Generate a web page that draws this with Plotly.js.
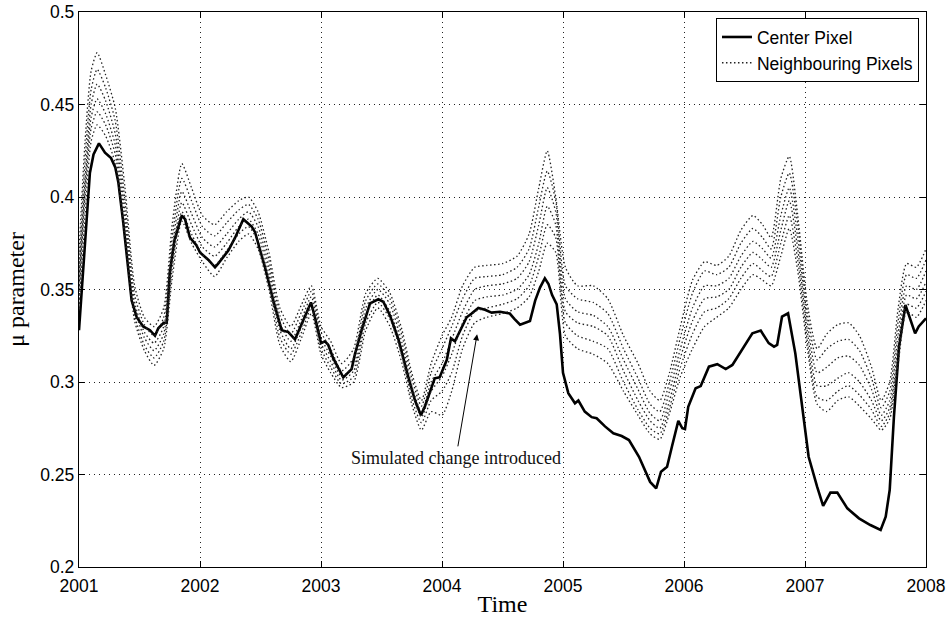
<!DOCTYPE html>
<html>
<head>
<meta charset="utf-8">
<script src="https://cdn.plot.ly/plotly-3.0.1.min.js"></script>
<style>html,body{margin:0;padding:0;background:#fff;}#chart{width:949px;height:619px;}</style>
</head>
<body>
<div id="chart"></div>
<script>
// Center pixel series (time in years, mu parameter)
const centerTime = [2001.0,2001.05,2001.09,2001.12,2001.165,2001.215,2001.265,2001.30,2001.325,2001.366,2001.41,2001.435,2001.477,2001.53,2001.587,2001.628,2001.655,2001.70,2001.725,2001.75,2001.79,2001.85,2001.876,2001.917,2001.97,2002.0,2002.07,2002.124,2002.15,2002.234,2002.29,2002.358,2002.427,2002.455,2002.537,2002.606,2002.675,2002.73,2002.785,2002.854,2002.917,2002.95,2003.0,2003.033,2003.06,2003.10,2003.184,2003.253,2003.28,2003.336,2003.405,2003.474,2003.515,2003.57,2003.64,2003.72,2003.777,2003.826,2003.86,2003.94,2003.98,2004.04,2004.074,2004.107,2004.163,2004.204,2004.245,2004.30,2004.355,2004.41,2004.48,2004.56,2004.60,2004.645,2004.727,2004.77,2004.81,2004.85,2004.88,2004.91,2004.948,2004.975,2005.0,2005.044,2005.099,2005.127,2005.18,2005.237,2005.278,2005.347,2005.416,2005.485,2005.545,2005.595,2005.628,2005.72,2005.77,2005.81,2005.86,2005.90,2005.953,2005.986,2006.008,2006.035,2006.096,2006.138,2006.206,2006.275,2006.345,2006.40,2006.48,2006.565,2006.634,2006.70,2006.744,2006.77,2006.81,2006.86,2006.92,2006.977,2007.03,2007.10,2007.15,2007.21,2007.267,2007.35,2007.446,2007.54,2007.625,2007.667,2007.70,2007.735,2007.777,2007.83,2007.91,2007.94,2008.0];
const centerVal = [0.328,0.377,0.413,0.423,0.429,0.424,0.421,0.416,0.408,0.386,0.359,0.344,0.335,0.330,0.328,0.325,0.329,0.332,0.332,0.359,0.377,0.390,0.388,0.378,0.374,0.370,0.366,0.362,0.364,0.371,0.378,0.388,0.384,0.381,0.362,0.344,0.328,0.327,0.323,0.333,0.343,0.335,0.321,0.322,0.320,0.313,0.3025,0.307,0.315,0.328,0.3425,0.3447,0.3434,0.336,0.323,0.303,0.290,0.282,0.287,0.302,0.3025,0.312,0.3236,0.322,0.330,0.335,0.337,0.340,0.339,0.3375,0.338,0.337,0.334,0.331,0.333,0.344,0.351,0.356,0.353,0.347,0.342,0.326,0.305,0.294,0.2885,0.290,0.284,0.281,0.2804,0.276,0.2723,0.2708,0.2686,0.2632,0.2596,0.246,0.2425,0.2515,0.2542,0.265,0.279,0.275,0.2746,0.2866,0.2966,0.2978,0.3083,0.3096,0.307,0.3092,0.3173,0.3263,0.3278,0.321,0.3191,0.320,0.3353,0.3371,0.3155,0.2866,0.2596,0.2434,0.233,0.2402,0.2402,0.2317,0.2263,0.2227,0.220,0.2272,0.2416,0.2812,0.319,0.3416,0.3263,0.330,0.3344];

// Neighbouring pixels (shared time axis)
const nbTime = [2001.00,2001.05,2001.10,2001.15,2001.22,2001.30,2001.38,2001.46,2001.54,2001.62,2001.70,2001.77,2001.85,2001.93,2002.02,2002.12,2002.22,2002.32,2002.40,2002.48,2002.57,2002.66,2002.75,2002.84,2002.92,2003.00,2003.08,2003.17,2003.27,2003.37,2003.47,2003.57,2003.67,2003.75,2003.83,2003.91,2004.00,2004.08,2004.17,2004.27,2004.37,2004.50,2004.62,2004.72,2004.80,2004.87,2004.94,2005.02,2005.12,2005.25,2005.37,2005.50,2005.62,2005.72,2005.80,2005.88,2005.97,2006.07,2006.17,2006.27,2006.37,2006.47,2006.57,2006.65,2006.72,2006.80,2006.87,2006.94,2007.02,2007.10,2007.18,2007.27,2007.36,2007.45,2007.55,2007.63,2007.70,2007.77,2007.84,2007.92,2008.00];
const nb1 = [0.37,0.43,0.468,0.478,0.466,0.448,0.405,0.352,0.335,0.33,0.34,0.385,0.418,0.405,0.39,0.385,0.392,0.398,0.4,0.392,0.37,0.34,0.33,0.342,0.352,0.33,0.322,0.31,0.318,0.348,0.356,0.348,0.328,0.305,0.29,0.31,0.325,0.335,0.352,0.362,0.363,0.364,0.368,0.38,0.405,0.425,0.4,0.362,0.352,0.352,0.345,0.325,0.31,0.295,0.29,0.305,0.33,0.355,0.365,0.363,0.368,0.382,0.39,0.385,0.378,0.41,0.422,0.39,0.342,0.318,0.326,0.331,0.332,0.325,0.308,0.29,0.3,0.34,0.364,0.362,0.372];
const nb2 = [0.36,0.42,0.458,0.469,0.459,0.441,0.398,0.347,0.331,0.325,0.335,0.378,0.41,0.398,0.384,0.379,0.386,0.393,0.396,0.388,0.366,0.336,0.326,0.338,0.349,0.327,0.318,0.306,0.313,0.344,0.353,0.345,0.325,0.302,0.287,0.305,0.318,0.33,0.345,0.356,0.357,0.358,0.362,0.372,0.395,0.414,0.398,0.352,0.345,0.343,0.337,0.318,0.302,0.288,0.284,0.3,0.324,0.348,0.36,0.358,0.362,0.375,0.383,0.378,0.372,0.4,0.413,0.385,0.337,0.312,0.318,0.322,0.323,0.317,0.302,0.286,0.295,0.333,0.358,0.356,0.366];
const nb3 = [0.355,0.41,0.45,0.461,0.452,0.434,0.392,0.343,0.327,0.321,0.33,0.372,0.403,0.391,0.378,0.373,0.38,0.388,0.392,0.384,0.362,0.332,0.322,0.334,0.346,0.324,0.314,0.303,0.309,0.34,0.35,0.342,0.321,0.298,0.284,0.3,0.31,0.323,0.338,0.35,0.352,0.353,0.356,0.365,0.385,0.405,0.392,0.345,0.338,0.336,0.33,0.312,0.296,0.283,0.279,0.295,0.318,0.34,0.352,0.352,0.356,0.368,0.376,0.372,0.367,0.39,0.405,0.378,0.332,0.305,0.308,0.313,0.314,0.309,0.296,0.282,0.29,0.326,0.352,0.35,0.36];
const nb4 = [0.35,0.405,0.443,0.453,0.445,0.428,0.387,0.34,0.324,0.317,0.326,0.366,0.397,0.385,0.373,0.368,0.375,0.384,0.388,0.38,0.358,0.328,0.318,0.33,0.343,0.321,0.311,0.301,0.306,0.336,0.347,0.338,0.318,0.295,0.281,0.295,0.303,0.315,0.332,0.344,0.346,0.347,0.35,0.358,0.375,0.395,0.385,0.338,0.332,0.33,0.325,0.306,0.29,0.279,0.275,0.29,0.313,0.333,0.345,0.346,0.35,0.362,0.37,0.366,0.362,0.382,0.398,0.372,0.327,0.298,0.298,0.302,0.305,0.3,0.29,0.279,0.286,0.32,0.347,0.345,0.354];
const nb5 = [0.345,0.40,0.437,0.446,0.439,0.423,0.382,0.336,0.32,0.313,0.322,0.361,0.392,0.38,0.369,0.363,0.371,0.38,0.384,0.376,0.354,0.324,0.315,0.327,0.34,0.318,0.308,0.299,0.303,0.332,0.343,0.334,0.314,0.291,0.278,0.29,0.295,0.305,0.325,0.338,0.34,0.342,0.345,0.352,0.368,0.385,0.378,0.332,0.325,0.322,0.318,0.3,0.285,0.275,0.272,0.286,0.308,0.326,0.338,0.34,0.345,0.356,0.364,0.36,0.357,0.375,0.39,0.366,0.322,0.292,0.29,0.295,0.298,0.293,0.285,0.276,0.283,0.314,0.342,0.34,0.349];
const nb6 = [0.34,0.39,0.43,0.439,0.433,0.418,0.377,0.333,0.317,0.309,0.318,0.356,0.387,0.375,0.365,0.357,0.367,0.376,0.38,0.372,0.35,0.32,0.311,0.324,0.337,0.315,0.305,0.297,0.3,0.328,0.34,0.33,0.31,0.288,0.274,0.284,0.282,0.295,0.318,0.332,0.335,0.337,0.34,0.346,0.36,0.375,0.37,0.325,0.318,0.315,0.31,0.295,0.282,0.272,0.269,0.283,0.303,0.318,0.33,0.335,0.34,0.35,0.358,0.355,0.352,0.368,0.383,0.36,0.318,0.288,0.284,0.29,0.292,0.287,0.28,0.274,0.28,0.31,0.338,0.335,0.344];

const xTicks = [2001,2002,2003,2004,2005,2006,2007,2008];
const yTicks = [0.2,0.25,0.3,0.35,0.4,0.45,0.5];
const yTickText = ['0.2','0.25','0.3','0.35','0.4','0.45','0.5'];

const neighbours = [nb1, nb2, nb3, nb4, nb5, nb6];
const traces = [];
neighbours.forEach((vals, i) => {
  traces.push({
    x: nbTime, y: vals, type: 'scatter', mode: 'lines',
    name: 'Neighbouring Pixels', legendgroup: 'nb', showlegend: i === 0,
    line: {color: '#222', width: 1.3, dash: '1.5px,2.5px', shape: 'spline', smoothing: 0.6}
  });
});
traces.unshift({
  x: centerTime, y: centerVal, type: 'scatter', mode: 'lines',
  name: 'Center Pixel', line: {color: '#000', width: 2.6}
});

const axisCommon = {
  showline: true, linecolor: '#000', linewidth: 1.2, mirror: 'ticks',
  ticks: 'inside', ticklen: 6, tickcolor: '#000',
  showgrid: true, gridcolor: '#222', griddash: '1px,4px', gridwidth: 1,
  zeroline: false,
  tickfont: {family: 'Liberation Sans, Arial, sans-serif', size: 17.5, color: '#000'}
};

const layout = {
  width: 949, height: 619,
  margin: {l: 79, r: 23, t: 12, b: 52},
  paper_bgcolor: '#fff', plot_bgcolor: '#fff',
  showlegend: true,
  legend: {
    x: 0.9917, y: 0.989, xanchor: 'right', yanchor: 'top',
    bgcolor: '#fff', bordercolor: '#000', borderwidth: 1,
    font: {family: 'Liberation Sans, Arial, sans-serif', size: 17.5, color: '#000'},
    tracegroupgap: 0
  },
  xaxis: Object.assign({}, axisCommon, {
    range: [2001, 2008], tickvals: xTicks, ticktext: xTicks.map(String),
    ticklabelstandoff: 3,
    title: {text: 'Time', font: {family: 'Liberation Serif, Times New Roman, serif', size: 24, color: '#000'}, standoff: 0}
  }),
  yaxis: Object.assign({}, axisCommon, {
    range: [0.2, 0.5], tickvals: yTicks, ticktext: yTickText,
    title: {text: 'μ parameter', font: {family: 'Liberation Serif, Times New Roman, serif', size: 24, color: '#000'}, standoff: 8}
  }),
  annotations: [{
    x: 2004.29, y: 0.3258, xref: 'x', yref: 'y',
    ax: 2004.115, ay: 0.259, axref: 'x', ayref: 'y',
    text: 'Simulated change introduced', showarrow: true,
    arrowhead: 2, arrowsize: 1.2, arrowwidth: 1, arrowcolor: '#000', standoff: 0,
    font: {family: 'Liberation Serif, Times New Roman, serif', size: 18, color: '#111'}
  }]
};

Plotly.newPlot('chart', traces, layout, {displayModeBar: false, staticPlot: true});
</script>
</body>
</html>
